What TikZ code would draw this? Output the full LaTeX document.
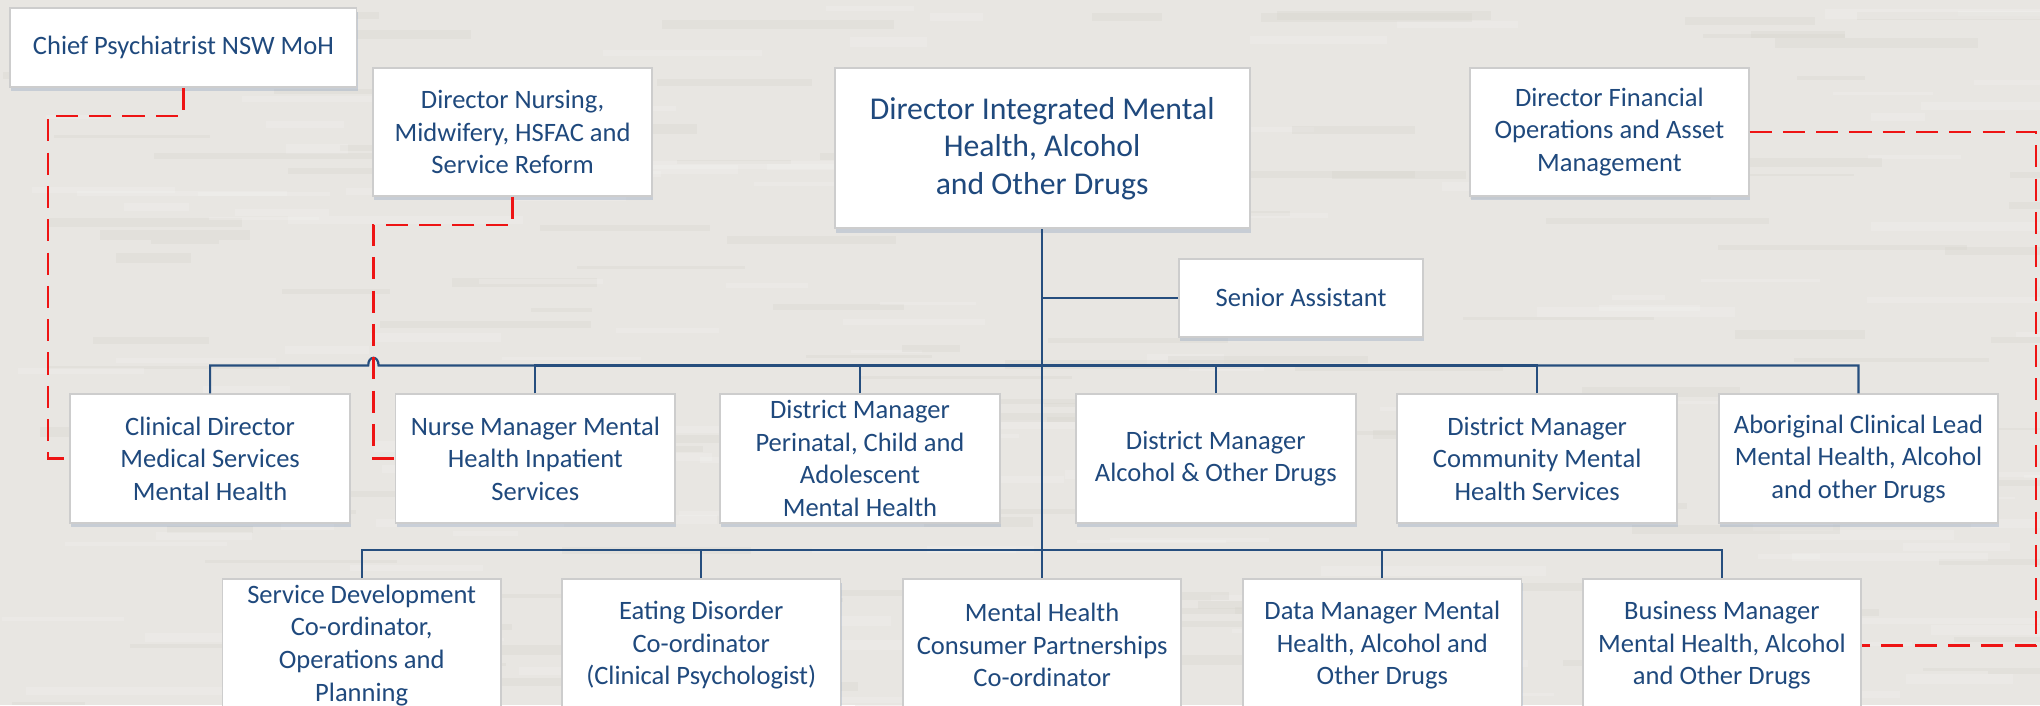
\documentclass[tikz,border=0pt]{standalone}
\usepackage{fontspec}
\setmainfont{Carlito}
\usetikzlibrary{shadows}
\definecolor{bgc}{RGB}{232,230,226}
\definecolor{streakd}{RGB}{214,211,205}
\definecolor{streakl}{RGB}{244,243,240}
\definecolor{txtc}{RGB}{31,73,125}
\definecolor{linec}{RGB}{38,78,126}
\definecolor{boxline}{RGB}{205,205,205}
\definecolor{redc}{RGB}{238,20,20}
\definecolor{shadc}{RGB}{140,160,190}
\tikzset{
  orgbox/.style={draw=boxline, line width=0.7pt, fill=white, align=center,
    inner sep=0pt, text=txtc, font=\fontsize{10.2}{12.5}\selectfont,
    drop shadow={shadow xshift=0.4pt, shadow yshift=-1.6pt, fill=shadc, opacity=0.35}},
  toprow/.style={orgbox, minimum width=107pt, minimum height=49pt},
  rowone/.style={orgbox, minimum width=107.5pt, minimum height=49.5pt},
  rowtwo/.style={orgbox, minimum width=107pt, minimum height=51pt},
  bl/.style={draw=linec, line width=0.85pt},
  rd/.style={draw=redc, line width=0.95pt, dash pattern=on 8.5pt off 4.3pt},
}
\begin{document}
\begin{tikzpicture}[x=0.5pt,y=-0.5pt]
\useasboundingbox (0,0) rectangle (1568,542);
\clip (0,0) rectangle (1568,542);
\fill[bgc] (0,0) rectangle (1568,542);
% subtle streaked texture
\pgfmathsetseed{11}
\foreach \i in {1,...,260}{
  \pgfmathsetmacro{\sx}{rnd*1568}
  \pgfmathsetmacro{\sy}{rnd*542}
  \pgfmathsetmacro{\sw}{40+rnd*160}
  \pgfmathsetmacro{\sh}{2+rnd*6}
  \pgfmathsetmacro{\pick}{rnd}
  \ifdim\pick pt<0.5pt
    \fill[streakd, opacity=0.3] (\sx,\sy) rectangle ++(\sw,\sh);
  \else
    \fill[streakl, opacity=0.3] (\sx,\sy) rectangle ++(\sw,\sh);
  \fi
}

% top level
\node[orgbox, minimum width=133pt, minimum height=30.5pt] (chief) at (141,36.5) {Chief Psychiatrist NSW MoH};
\node[toprow] (nursing) at (394,101.5) {Director Nursing,\\ Midwifery, HSFAC and\\ Service Reform};
\node[orgbox, minimum width=159.5pt, minimum height=61.5pt, font=\fontsize{12.2}{14.4}\selectfont] (main) at (801,114) {Director Integrated Mental\\ Health, Alcohol\\ and Other Drugs};
\node[toprow] (fin) at (1237,101.5) {Director Financial\\ Operations and Asset\\ Management};
\node[orgbox, minimum width=94pt, minimum height=30pt] (senior) at (1000,229) {Senior Assistant};

% row one
\node[rowone] (clin) at (161.5,352.5) {Clinical Director\\ Medical Services\\ Mental Health};
\node[rowone] (nurse) at (411.5,352.5) {Nurse Manager Mental\\ Health Inpatient\\ Services};
\node[rowone] (peri) at (661,352.5) {District Manager\\ Perinatal, Child and\\ Adolescent\\ Mental Health};
\node[rowone] (aod) at (934.5,352.5) {District Manager\\ Alcohol \& Other Drugs};
\node[rowone] (comm) at (1181.5,352.5) {District Manager\\ Community Mental\\ Health Services};
\node[rowone] (abor) at (1428.5,352.5) {Aboriginal Clinical Lead\\ Mental Health, Alcohol\\ and other Drugs};

% row two
\node[rowtwo] (sdc) at (278,496) {Service Development\\ Co-ordinator,\\ Operations and\\ Planning};
\node[rowtwo] (eat) at (539,496) {Eating Disorder\\ Co-ordinator\\ (Clinical Psychologist)};
\node[rowtwo] (cons) at (801,496) {Mental Health\\ Consumer Partnerships\\ Co-ordinator};
\node[rowtwo] (data) at (1062.5,496) {Data Manager Mental\\ Health, Alcohol and\\ Other Drugs};
\node[rowtwo] (busm) at (1323.5,496) {Business Manager\\ Mental Health, Alcohol\\ and Other Drugs};

% solid reporting lines
\coordinate (b1) at (801,281);
\coordinate (b2) at (801,423);
\coordinate (hopL) at (283,281);
\coordinate (hopR) at (291,281);
\draw[bl] (main.south) -- (cons.north);
\draw[bl] (main.south |- senior.west) -- (senior.west);
\draw[bl] (clin.north) |- (hopL) .. controls (283,273) and (291,273) .. (hopR) -- (b1) -| (abor.north);
\draw[bl] (nurse.north) |- (b1);
\draw[bl] (peri.north) |- (b1);
\draw[bl] (aod.north) |- (b1);
\draw[bl] (comm.north) |- (b1);
\draw[bl] (sdc.north) |- (b2) -| (busm.north);
\draw[bl] (eat.north) |- (b2);
\draw[bl] (data.north) |- (b2);

% dashed professional lines
\coordinate (c1) at (37,89);
\coordinate (c2) at (287,173);
\coordinate (c3) at (1565,101.5);
\draw[rd] (chief.south) |- (c1) |- (clin.west);
\draw[rd] (nursing.south) |- (c2) |- (nurse.west);
\draw[rd] (fin.east) -- (c3) |- (busm.east);
\end{tikzpicture}
\end{document}
